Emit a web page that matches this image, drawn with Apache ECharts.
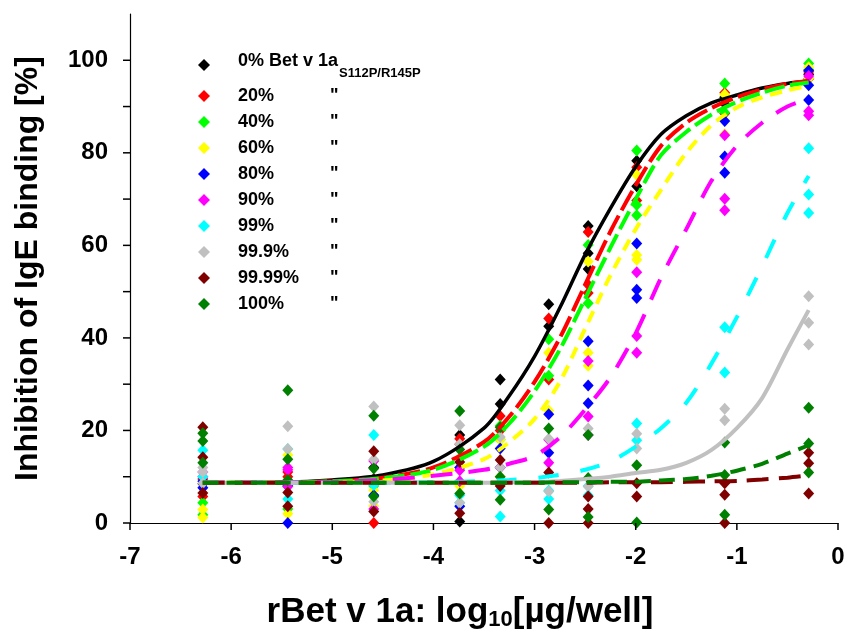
<!DOCTYPE html>
<html>
<head>
<meta charset="utf-8">
<script src="https://cdn.jsdelivr.net/npm/echarts@6/dist/echarts.min.js"></script>
<style>html,body{margin:0;padding:0;background:#fff}#c{width:848px;height:632px}</style>
</head>
<body>
<div id="c"></div>
<script>
// ---- data ----
const seriesNames = ['0%', '20%', '40%', '60%', '80%', '90%', '99%', '99.9%', '99.99%', '100%'];
const seriesColors = ['#000000', '#ff0000', '#00ff00', '#ffff00', '#0000ff', '#ff00ff', '#00ffff', '#c0c0c0', '#800000', '#008000'];
const yLabelValues = [0, 20, 40, 60, 80, 100];
const xTickValues = [-7, -6, -5, -4, -3, -2, -1, 0];
const yTickValues = [0, 10, 20, 30, 40, 50, 60, 70, 80, 90, 100];
const xCols = [-6.28, -5.44, -4.59, -3.74, -3.34, -2.86, -2.47, -1.99, -1.12, -0.29];

const pts0 = [[8.5], [9], [12, 9], [0.3, 19], [31, 25.7], [47.3, 42.5], [64.2, 58.3, 54.9], [78.3, 72.8], [90.6, 92], [97, 96]];
const pts20 = [[5.7, 9.5], [11, 10], [0, 9], [18.2, 17], [23.1, 20], [44.2, 31], [62.9, 51.5, 49.7], [76.9, 69.7], [93, 88.5], [97.5, 96]];
const pts40 = [[4.4, 1.8], [8, 3], [8, 6], [14, 12], [21, 18], [39.7, 31.8], [60.1, 47.5], [80.5, 68.7, 66.5], [95, 88.7], [99.3, 98]];
const pts60 = [[2.9, 1.2], [14.7, 2], [7.1, 3.7], [8.9, 8], [18, 10], [36.8, 24.3], [56.5, 36.8, 34], [75.2, 57.9, 56.9], [92.6, 84], [98.5, 96]];
const pts80 = [[7.6, 9], [0, 8], [6, 9], [3.6, 12], [16.1, 12], [23.5, 15.2], [39.3, 29.7, 25.9], [60.4, 50.4, 48.6], [86.9, 79.2, 75.7], [97.8, 94.6, 91.4]];
const pts90 = [[11, 10], [12, 7.9, 11.5], [13.4, 3], [11.4, 9], [8.4, 12], [13, 18], [35, 23, 19], [54.2, 40.4, 36.8], [83.8, 70.1, 67.6], [96.6, 89, 88.1]];
const pts99 = [[15.7, 10], [5.2, 16], [19, 8.2], [4.4, 6], [7, 1.4], [5.2, 7], [8, 6], [21.5, 17.9], [42.3, 32.5], [81, 71, 67]];
const pts999 = [[11, 8.6, 12], [20.9, 16], [25.2, 13.7, 4.6], [21.1, 17, 4.4], [18.6, 12], [18.2, 6.8], [20.4, 7.9], [19.3, 16.1], [24.7, 22.2], [49, 43.3, 38.6]];
const pts9999 = [[20.7, 14.2, 6.5], [6.6, 3.6], [15.5, 9.5, 2.5], [13.2, 2.1], [13.6, 8], [10.9, 0], [5.7, 3, 0], [8.6, 5.7], [8.6, 6.1, 0], [15.2, 12.9, 6.4]];
const pts100 = [[19.4, 17.7, 13], [28.7, 13.8, 9.3], [23.2, 11.8, 5.7], [24.2, 15.9, 6.4], [20.7, 10, 5], [20.4, 2.9], [19, 9.7, 1.3], [12.5, 0.1], [17.4, 10.4, 1.8], [24.9, 17.2, 10.9]];

// fitted curves, read at these x positions
const curveX = [-6.28, -5.5, -5, -4.5, -4, -3.5, -3.25, -3, -2.75, -2.5, -2.25, -2, -1.75, -1.5, -1.25, -1, -0.75, -0.5, -0.29];
const fit0 = [8.7, 8.8, 9.3, 10.4, 13.3, 20.5, 27.5, 36, 46.5, 58, 68, 77, 84, 88, 90.8, 92.5, 94, 95, 95.5];
const fit20 = [8.7, 8.7, 9, 9.8, 12, 17.5, 23, 30.5, 40, 51.5, 63, 73, 81.5, 86.5, 89.7, 92, 93.7, 94.9, 95.5];
const fit40 = [8.7, 8.7, 9, 9.7, 11.5, 16.5, 21.5, 28.5, 37.5, 48.5, 59.5, 70, 79.5, 84.5, 88.3, 91, 93, 94.5, 95.2];
const fit60 = [8.7, 8.7, 8.8, 9.2, 10.5, 13.8, 17.5, 22.5, 30.5, 42, 53.5, 63.5, 72, 80, 86, 89.8, 92, 93.5, 94.5];
const fit90 = [8.7, 8.8, 8.9, 9.3, 10.2, 11.5, 12.8, 14.5, 18.5, 24.5, 31.5, 41, 53, 63.5, 74, 81.5, 86.5, 90, 91.7];
const fit99 = [8.7, 8.7, 8.7, 8.7, 8.8, 9.1, 9.3, 9.7, 10.4, 11.5, 13.3, 16.5, 20.5, 26, 34.5, 44.5, 55.5, 67, 75];
const fit999 = [8.7, 8.7, 8.7, 8.7, 8.7, 8.7, 8.8, 8.8, 9.1, 9.5, 10, 10.8, 11.5, 13, 15.8, 20.5, 27, 37.5, 46];
const fit9999 = [8.7, 8.7, 8.7, 8.7, 8.7, 8.7, 8.7, 8.7, 8.7, 8.7, 8.8, 8.8, 8.8, 8.9, 9, 9.1, 9.4, 9.8, 10.3];
const fit100 = [8.7, 8.7, 8.7, 8.7, 8.7, 8.7, 8.7, 8.7, 8.8, 8.8, 8.9, 8.9, 9.2, 9.5, 10.2, 11.3, 12.8, 15, 16.8];

// ---- build ----
const allPts = [pts0, pts20, pts40, pts60, pts80, pts90, pts99, pts999, pts9999, pts100];
const fits = [
  { d: fit0, c: '#000000', t: 'solid', w: 3.5 },
  { d: fit20, c: '#ff0000', t: [22, 6], w: 4 },
  { d: fit40, c: '#00ff00', t: [20, 6], w: 4 },
  { d: fit60, c: '#ffff00', t: [12, 8], w: 4 },
  { d: fit90, c: '#ff00ff', t: [22, 16], w: 4 },
  { d: fit99, c: '#00ffff', t: [20, 22], w: 4 },
  { d: fit999, c: '#c0c0c0', t: 'solid', w: 4 },
  { d: fit9999, c: '#800000', t: [22, 10], w: 4 },
  { d: fit100, c: '#008000', t: [16, 8], w: 4 }
];
const FONT = '"Liberation Sans", Arial, sans-serif';
const TICK_LEN = 7;
const series = [];
fits.forEach((f, i) => {
  series.push({
    type: 'line', name: 'fit' + i, smooth: 0.3, showSymbol: false, symbol: 'none',
    silent: true,
    data: curveX.map((x, k) => [x, f.d[k]]),
    lineStyle: { color: f.c, width: f.w, type: f.t, cap: 'butt' }
  });
});
allPts.forEach((p, i) => {
  const data = [];
  p.forEach((col, k) => col.forEach(v => data.push([xCols[k], v])));
  series.push({
    type: 'scatter', name: seriesNames[i], symbol: 'diamond', symbolSize: [11, 12],
    itemStyle: { color: seriesColors[i], opacity: 1 }, data
  });
});
// axis tick marks, placed through the axes' own scales
series.push({
  type: 'custom', name: 'xticks', silent: true, clip: false, z: 5,
  data: xTickValues.map(v => [v, 0]),
  renderItem: (params, api) => {
    const p = api.coord([api.value(0), 0]);
    return { type: 'line', shape: { x1: p[0], y1: p[1], x2: p[0], y2: p[1] + TICK_LEN }, style: { stroke: '#000', lineWidth: 1.5 } };
  }
});
series.push({
  type: 'custom', name: 'yticks', silent: true, clip: false, z: 5,
  data: yTickValues.map(v => [-7, v]),
  renderItem: (params, api) => {
    const p = api.coord([-7, api.value(1)]);
    return { type: 'line', shape: { x1: p[0] - TICK_LEN, y1: p[1], x2: p[0], y2: p[1] }, style: { stroke: '#000', lineWidth: 1.5 } };
  }
});

const chart = echarts.init(document.getElementById('c'), null, { renderer: 'canvas' });
chart.setOption({
  animation: false,
  backgroundColor: '#fff',
  grid: { left: 130, right: 10, top: 14, bottom: 109, outerBoundsMode: 'none' },
  xAxis: {
    type: 'value', min: -7, max: 0, interval: 1,
    axisLine: { show: true, onZero: false, lineStyle: { color: '#000', width: 1.2 } },
    axisTick: { show: false },
    axisLabel: { margin: 22, color: '#000', fontSize: 24, fontWeight: 'bold', fontFamily: FONT },
    splitLine: { show: false },
    name: '{a|rBet v 1a: log}{s|10}{a|[µg/well]}',
    nameLocation: 'middle', nameGap: 70,
    nameTextStyle: {
      padding: [0, 48, 0, 0],
      rich: {
        a: { fontSize: 35, fontWeight: 'bold', fontFamily: FONT, color: '#000' },
        s: { fontSize: 22, fontWeight: 'bold', fontFamily: FONT, color: '#000', padding: [16, 0, 0, 0] }
      }
    }
  },
  yAxis: {
    type: 'value', min: 0, max: 110, interval: 10,
    axisLine: { show: true, onZero: false, lineStyle: { color: '#000', width: 1.2 } },
    axisTick: { show: false },
    axisLabel: {
      margin: 22, color: '#000', fontSize: 24, fontWeight: 'bold', fontFamily: FONT,
      formatter: v => (yLabelValues.indexOf(v) >= 0 ? String(v) : '')
    },
    splitLine: { show: false },
    name: 'Inhibition of IgE binding [%]',
    nameLocation: 'middle', nameGap: 86,
    nameTextStyle: { fontSize: 32, fontWeight: 'bold', fontFamily: FONT, color: '#000' }
  },
  legend: [
    {
      data: ['0%'], left: 198, top: 52, padding: 0, orient: 'vertical', itemWidth: 12, itemHeight: 12, icon: 'diamond',
      selectedMode: false,
      formatter: () => '{s| }{p|0% Bet v 1a}{sub|S112P/R145P}',
      textStyle: {
        rich: {
          s: { width: 23, fontSize: 18 },
          p: { fontSize: 18, fontWeight: 'bold', fontFamily: FONT, color: '#000', lineHeight: 20, padding: [0, 0, 8, 0] },
          sub: { fontSize: 13, fontWeight: 'bold', fontFamily: FONT, color: '#000', padding: [17.5, 0, 0, 1] }
        }
      }
    },
    {
      data: seriesNames.slice(1), left: 198, top: 87, padding: 0, orient: 'vertical', itemGap: 8, itemWidth: 12, itemHeight: 12, icon: 'diamond',
      selectedMode: false,
      formatter: n => '{s| }{p|' + n + '}{q|"}',
      textStyle: {
        rich: {
          s: { width: 23, fontSize: 18, lineHeight: 18 },
          p: { width: 92, fontSize: 18, fontWeight: 'bold', fontFamily: FONT, color: '#000', lineHeight: 18 },
          q: { fontSize: 18, fontWeight: 'bold', fontFamily: FONT, color: '#000', lineHeight: 18 }
        }
      }
    }
  ],
  series
});
</script>
</body>
</html>
